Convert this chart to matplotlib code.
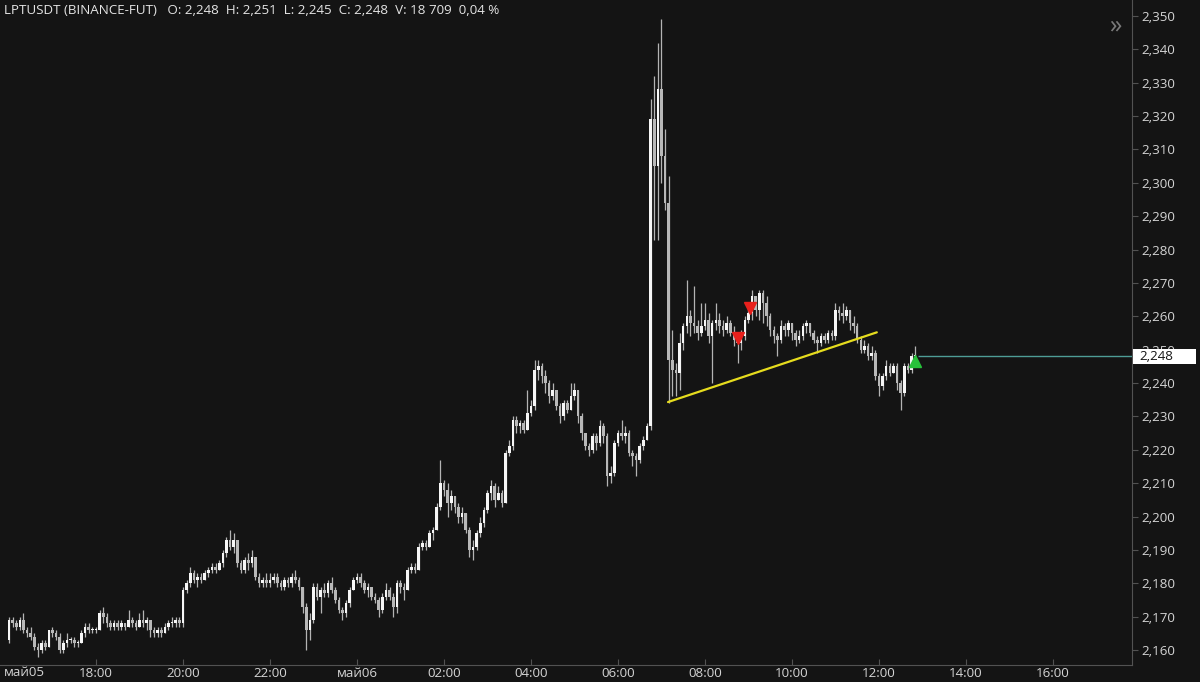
import matplotlib
matplotlib.use('Agg')
import matplotlib.pyplot as plt
from matplotlib.patches import Rectangle

# ---- data (5-minute candles, index 0 = 16:00 May 5) ----
first_open = 2.163
closes = [
    2.169, 2.168, 2.167, 2.169, 2.166, 2.165, 2.164, 2.161, 2.160, 2.162, 2.161, 2.166,
    2.165, 2.164, 2.160, 2.162, 2.163, 2.163, 2.162, 2.162, 2.165, 2.167, 2.166, 2.166,
    2.166, 2.171, 2.170, 2.168, 2.167, 2.168, 2.167, 2.168, 2.167, 2.169, 2.168, 2.167,
    2.169, 2.168, 2.169, 2.166, 2.165, 2.166, 2.165, 2.167, 2.168, 2.168, 2.169, 2.168,
    2.178, 2.180, 2.183, 2.181, 2.182, 2.181, 2.183, 2.184, 2.185, 2.184, 2.186, 2.189,
    2.193, 2.191, 2.193, 2.186, 2.184, 2.187, 2.186, 2.188, 2.182, 2.180, 2.181, 2.180,
    2.181, 2.182, 2.180, 2.179, 2.181, 2.180, 2.182, 2.181, 2.179, 2.173, 2.166, 2.169,
    2.179, 2.176, 2.178, 2.177, 2.180, 2.178, 2.175, 2.172, 2.171, 2.174, 2.178, 2.181,
    2.182, 2.180, 2.178, 2.179, 2.176, 2.175, 2.172, 2.176, 2.178, 2.176, 2.173, 2.180,
    2.179, 2.178, 2.184, 2.185, 2.184, 2.191, 2.192, 2.191, 2.195, 2.196, 2.203, 2.210,
    2.208, 2.204, 2.206, 2.203, 2.200, 2.201, 2.196, 2.190, 2.191, 2.195, 2.198, 2.202,
    2.207, 2.209, 2.205, 2.207, 2.204, 2.219, 2.221, 2.229, 2.227, 2.228, 2.226, 2.231,
    2.233, 2.244, 2.245, 2.242, 2.240, 2.236, 2.238, 2.233, 2.230, 2.234, 2.232, 2.236,
    2.238, 2.230, 2.225, 2.221, 2.220, 2.224, 2.222, 2.227, 2.224, 2.212, 2.213, 2.222,
    2.225, 2.224, 2.225, 2.219, 2.218, 2.217, 2.221, 2.223, 2.227, 2.319, 2.305, 2.328,
    2.308, 2.294, 2.247, 2.244, 2.243, 2.252, 2.257, 2.260, 2.258, 2.257, 2.255, 2.257,
    2.259, 2.254, 2.258, 2.259, 2.257, 2.256, 2.258, 2.255, 2.253, 2.252, 2.254, 2.259,
    2.261, 2.266, 2.262, 2.267, 2.264, 2.260, 2.256, 2.254, 2.253, 2.257, 2.256, 2.258,
    2.255, 2.253, 2.254, 2.257, 2.258, 2.255, 2.253, 2.252, 2.254, 2.253, 2.255, 2.254,
    2.262, 2.261, 2.260, 2.262, 2.258, 2.257, 2.253, 2.250, 2.251, 2.248, 2.249, 2.242,
    2.239, 2.242, 2.245, 2.243, 2.245, 2.240, 2.237, 2.245, 2.244, 2.248, 2.248,
]
highs = [
    2.170, 2.170, 2.169, 2.170, 2.171, 2.167, 2.167, 2.165, 2.162, 2.163, 2.163, 2.166,
    2.167, 2.166, 2.165, 2.163, 2.165, 2.164, 2.164, 2.163, 2.166, 2.168, 2.168, 2.167,
    2.167, 2.172, 2.173, 2.171, 2.169, 2.169, 2.169, 2.169, 2.168, 2.172, 2.170, 2.169,
    2.171, 2.172, 2.170, 2.169, 2.167, 2.167, 2.167, 2.168, 2.169, 2.170, 2.170, 2.170,
    2.179, 2.181, 2.185, 2.184, 2.183, 2.183, 2.184, 2.185, 2.186, 2.186, 2.187, 2.190,
    2.194, 2.196, 2.195, 2.193, 2.187, 2.188, 2.189, 2.190, 2.188, 2.183, 2.182, 2.183,
    2.183, 2.183, 2.183, 2.181, 2.182, 2.182, 2.183, 2.184, 2.182, 2.179, 2.174, 2.171,
    2.180, 2.180, 2.179, 2.180, 2.181, 2.182, 2.179, 2.176, 2.173, 2.175, 2.179, 2.182,
    2.183, 2.183, 2.181, 2.180, 2.179, 2.177, 2.176, 2.177, 2.180, 2.179, 2.177, 2.181,
    2.181, 2.180, 2.185, 2.186, 2.186, 2.192, 2.193, 2.193, 2.196, 2.197, 2.204, 2.217,
    2.211, 2.210, 2.208, 2.206, 2.204, 2.203, 2.201, 2.197, 2.193, 2.196, 2.200, 2.203,
    2.208, 2.211, 2.210, 2.209, 2.208, 2.220, 2.223, 2.230, 2.230, 2.229, 2.229, 2.238,
    2.235, 2.247, 2.247, 2.246, 2.244, 2.241, 2.240, 2.238, 2.234, 2.235, 2.235, 2.240,
    2.240, 2.238, 2.231, 2.225, 2.222, 2.225, 2.225, 2.229, 2.228, 2.225, 2.215, 2.223,
    2.226, 2.229, 2.227, 2.226, 2.220, 2.219, 2.222, 2.224, 2.228, 2.325, 2.332, 2.342,
    2.349, 2.316, 2.302, 2.256, 2.246, 2.255, 2.258, 2.271, 2.262, 2.269, 2.259, 2.264,
    2.264, 2.261, 2.259, 2.264, 2.261, 2.259, 2.260, 2.259, 2.257, 2.255, 2.256, 2.260,
    2.263, 2.268, 2.266, 2.268, 2.268, 2.266, 2.261, 2.257, 2.255, 2.259, 2.258, 2.259,
    2.258, 2.256, 2.256, 2.258, 2.259, 2.258, 2.256, 2.254, 2.255, 2.255, 2.256, 2.256,
    2.264, 2.263, 2.264, 2.263, 2.262, 2.260, 2.258, 2.254, 2.253, 2.252, 2.251, 2.250,
    2.243, 2.243, 2.247, 2.246, 2.246, 2.246, 2.241, 2.246, 2.246, 2.249, 2.251,
]
lows = [
    2.162, 2.167, 2.166, 2.166, 2.165, 2.164, 2.163, 2.160, 2.158, 2.159, 2.160, 2.161,
    2.164, 2.163, 2.159, 2.159, 2.161, 2.162, 2.161, 2.161, 2.162, 2.164, 2.165, 2.165,
    2.165, 2.166, 2.168, 2.167, 2.166, 2.166, 2.166, 2.166, 2.166, 2.167, 2.167, 2.166,
    2.167, 2.167, 2.166, 2.164, 2.164, 2.164, 2.164, 2.165, 2.166, 2.167, 2.167, 2.167,
    2.167, 2.177, 2.179, 2.180, 2.179, 2.180, 2.181, 2.182, 2.183, 2.183, 2.184, 2.185,
    2.188, 2.190, 2.189, 2.185, 2.183, 2.183, 2.184, 2.185, 2.181, 2.179, 2.179, 2.179,
    2.179, 2.180, 2.179, 2.178, 2.178, 2.179, 2.179, 2.180, 2.178, 2.171, 2.160, 2.163,
    2.168, 2.175, 2.171, 2.176, 2.176, 2.177, 2.174, 2.171, 2.169, 2.170, 2.173, 2.178,
    2.180, 2.179, 2.177, 2.176, 2.175, 2.174, 2.170, 2.171, 2.175, 2.175, 2.170, 2.171,
    2.177, 2.175, 2.178, 2.183, 2.183, 2.184, 2.190, 2.190, 2.191, 2.193, 2.196, 2.202,
    2.206, 2.200, 2.202, 2.201, 2.198, 2.198, 2.195, 2.188, 2.187, 2.190, 2.194, 2.197,
    2.201, 2.205, 2.203, 2.205, 2.203, 2.204, 2.218, 2.220, 2.225, 2.225, 2.225, 2.226,
    2.230, 2.232, 2.241, 2.240, 2.237, 2.234, 2.235, 2.232, 2.228, 2.229, 2.231, 2.232,
    2.235, 2.228, 2.223, 2.220, 2.218, 2.219, 2.220, 2.221, 2.222, 2.209, 2.210, 2.212,
    2.221, 2.223, 2.222, 2.218, 2.215, 2.212, 2.216, 2.220, 2.223, 2.226, 2.283, 2.283,
    2.300, 2.292, 2.234, 2.236, 2.236, 2.238, 2.250, 2.255, 2.254, 2.255, 2.253, 2.254,
    2.256, 2.252, 2.240, 2.256, 2.255, 2.254, 2.255, 2.254, 2.251, 2.246, 2.250, 2.253,
    2.258, 2.259, 2.260, 2.259, 2.258, 2.257, 2.254, 2.252, 2.248, 2.252, 2.254, 2.254,
    2.253, 2.251, 2.252, 2.253, 2.255, 2.254, 2.252, 2.249, 2.251, 2.252, 2.252, 2.253,
    2.253, 2.259, 2.258, 2.259, 2.256, 2.255, 2.252, 2.249, 2.249, 2.247, 2.247, 2.241,
    2.236, 2.238, 2.241, 2.242, 2.243, 2.238, 2.232, 2.236, 2.243, 2.243, 2.245,
]
opens = [first_open] + closes[:-1]

x_tick_pos = [24, 48, 72, 96, 120, 144, 168, 192, 216, 240, 264, 288]
x_tick_labels = ['18:00', '20:00', '22:00', 'май06', '02:00', '04:00', '06:00',
                 '08:00', '10:00', '12:00', '14:00', '16:00']
first_day_label = 'май05'
y_tick_vals = [2.160, 2.170, 2.180, 2.190, 2.200, 2.210, 2.220, 2.230, 2.240, 2.250,
               2.260, 2.270, 2.280, 2.290, 2.300, 2.310, 2.320, 2.330, 2.340, 2.350]
y_tick_labels = ['2,160', '2,170', '2,180', '2,190', '2,200', '2,210', '2,220', '2,230',
                 '2,240', '2,250', '2,260', '2,270', '2,280', '2,290', '2,300', '2,310',
                 '2,320', '2,330', '2,340', '2,350']
trend_x = [181.8, 239.4]
trend_y = [2.2343, 2.2552]
sell_x = [201.1, 204.4]
sell_y = [2.2535, 2.2625]
buy_x = [250.0]
buy_y = [2.2465]
last_price = 2.248
last_price_label = '2,248'
header = 'LPTUSDT (BINANCE-FUT)   O: 2,248  H: 2,251  L: 2,245  C: 2,248  V: 18 709  0,04 %'

# ---- style ----
BG = '#141414'
TXT = '#d4d4d4'
AX = '#525252'
FS = 9.6
plt.rcParams['font.family'] = ['Open Sans', 'DejaVu Sans']

W, H = 1200, 682
fig = plt.figure(figsize=(W / 100, H / 100), dpi=100, facecolor=BG)
ax = fig.add_axes([0, 17 / H, 1132 / W, 665 / H])
ax.set_facecolor(BG)
ax.set_xlim(-2.48, 309.8)
ax.set_ylim(2.1555, 2.3548)

xs = list(range(len(closes)))
wick_hi = [max(h, o, c) for h, o, c in zip(highs, opens, closes)]
wick_lo = [min(l, o, c) for l, o, c in zip(lows, opens, closes)]
ax.vlines(xs, wick_lo, wick_hi, color='#b4b4b4', lw=0.9, zorder=2)
bottoms = [min(o, c) for o, c in zip(opens, closes)]
heights = [max(abs(c - o), 0.0003) for o, c in zip(opens, closes)]
colors = ['#f6f6f6' if c >= o else '#b8b8b8' for o, c in zip(opens, closes)]
ax.bar(xs, heights, bottom=bottoms, width=0.7, color=colors, linewidth=0, zorder=3)

# trend line and signals
ax.plot(trend_x, trend_y, color='#e6dc1e', lw=1.6, zorder=4, solid_capstyle='round')
ax.plot(sell_x, sell_y, linestyle='none', marker='v', markersize=9, color='#e8201c', zorder=5)
ax.plot(buy_x, buy_y, linestyle='none', marker='^', markersize=8, color='#27c23a', zorder=5)
ax.hlines(last_price, 250.8, 309.8, color='#4e9d96', lw=1.0, zorder=4)

# axes styling
for s in ['left', 'top']:
    ax.spines[s].set_visible(False)
ax.spines['right'].set_color(AX)
ax.spines['bottom'].set_color(AX)
ax.yaxis.tick_right()
ax.set_yticks(y_tick_vals)
ax.set_yticklabels(y_tick_labels)
ax.tick_params(axis='y', length=4, width=0.8, color=AX, labelcolor=TXT, labelsize=FS, pad=3)
ax.set_xticks(x_tick_pos)
ax.set_xticklabels(x_tick_labels)
ax.tick_params(axis='x', direction='in', length=4, width=0.8, color=AX, labelcolor=TXT,
               labelsize=FS, pad=1.5)

fig.text(4 / W, 1 - 673 / H, first_day_label, color=TXT, fontsize=FS, ha='left', va='center')
fig.text(4 / W, 1 - 10 / H, header, color='#e4e4e4', fontsize=FS, ha='left', va='center')
fig.text(1115 / W, 1 - 26 / H, '»', color='#7a7a7a', fontsize=18, ha='center', va='center')

# last-price box on the price scale (it hides part of the 2,250 label, as in the reference)
fig.canvas.draw()
py = ax.transData.transform((0, last_price))[1] / H
fig.patches.append(Rectangle((1133 / W, py - 7.5 / H), 63 / W, 15 / H, transform=fig.transFigure,
                             facecolor='#ffffff', edgecolor='none', zorder=10))
fig.text(1139 / W, py, last_price_label, color='#151515', fontsize=FS, ha='left', va='center',
         zorder=11)

fig.savefig('out.png', dpi=100, facecolor=BG)
